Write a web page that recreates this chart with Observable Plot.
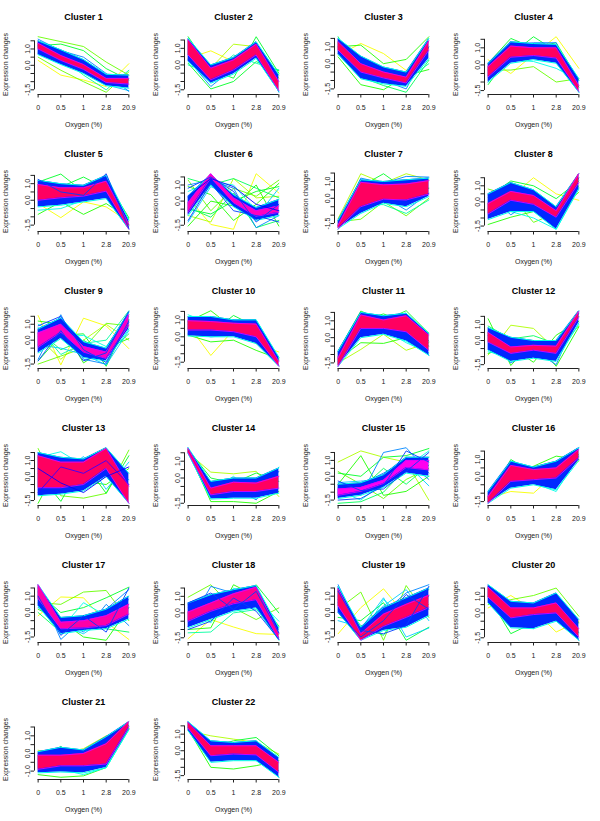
<!DOCTYPE html>
<html><head><meta charset="utf-8">
<script src="https://cdn.jsdelivr.net/npm/d3@7"></script>
<script src="https://cdn.jsdelivr.net/npm/@observablehq/plot@0.6"></script>
<style>
body{margin:0;background:#fff;}
#grid{position:relative;width:600px;height:821px;overflow:hidden;font-family:"Liberation Sans",Arial,Helvetica,sans-serif;}
.panel{position:absolute;width:150px;height:137px;}
</style></head><body><div id="grid"></div>
<script>
const clusterNames = ["Cluster 1","Cluster 2","Cluster 3","Cluster 4","Cluster 5","Cluster 6","Cluster 7","Cluster 8","Cluster 9","Cluster 10","Cluster 11","Cluster 12","Cluster 13","Cluster 14","Cluster 15","Cluster 16","Cluster 17","Cluster 18","Cluster 19","Cluster 20","Cluster 21","Cluster 22"];
const oxygenLabels = ["0","0.5","1","2.8","20.9"];
const timeIndex = [1,2,3,4,5];
const xAxisTitle = "Oxygen (%)";
const yAxisTitle = "Expression changes";
// Mfuzz membership palette (low -> high membership)
const palette = ["#FF8F00","#FFA700","#FFBF00","#FFD700","#FFEF00","#F7FF00","#DFFF00","#C7FF00","#AFFF00","#97FF00","#80FF00","#68FF00","#50FF00","#38FF00","#20FF00","#08FF00","#00FF10","#00FF28","#00FF40","#00FF58","#00FF70","#00FF87","#00FF9F","#00FFB7","#00FFCF","#00FFE7","#00FFFF","#00E7FF","#00CFFF","#00B7FF","#009FFF","#0087FF","#0070FF","#0058FF","#0040FF","#0028FF","#0010FF","#0800FF","#2000FF","#3800FF","#5000FF","#6800FF","#8000FF","#9700FF","#AF00FF","#C700FF","#DF00FF","#F700FF","#FF00EF","#FF00D7","#FF00BF","#FF00A7","#FF008F","#FF0078","#FF0060","#FF0048","#FF0030","#FF0018"];
// labelled y ticks per cluster
const yLabelValues = [[-1.5,0,1],[-1.5,0,1],[-1.5,0,1],[-1.5,0,1],[-1.5,0,1],[-1.5,0,1],[-1.5,0,1],[-1.5,0,1],[-1.5,0,1],[-1.5,0,1],[-1.5,0,1],[-1.5,0,1],[-1.5,0,1],[-1.5,0,1],[-1.5,0,1],[-1.5,0,1],[-1.5,0,1],[-1.5,0,1],[-1.5,0,1],[-1.5,0,1],[-1,0,1],[-1.5,0,1]];
// membership of the densest (core) profiles per cluster
const coreMembership = [0.95,0.95,0.95,0.95,0.95,0.88,0.95,0.95,0.88,0.95,0.95,0.95,0.95,0.95,0.85,0.95,0.9,0.92,0.95,0.95,0.95,0.95];
const bandMembership = 0.62;
const bandEdgeMembership = 0.45;
const coreEdgeMembership = 0.82;
// envelope of high-membership profiles (core) at the 5 oxygen levels
const coreLow = [
[1.0,0.3,-0.25,-1.05,-1.15],[0.6,-0.9,-0.3,0.6,-1.55],[0.8,-0.5,-0.85,-1.15,0.8],[-0.7,0.45,0.55,0.4,-1.55],
[0.0,0.15,0.25,0.55,-1.75],[-0.7,1.45,-0.1,-0.95,-0.7],[-1.8,-0.5,-0.05,-0.1,0.25],[-0.75,0.1,-0.15,-0.95,1.2],
[-0.45,0.5,-0.75,-1.15,0.95],[0.4,0.4,0.3,0.0,-1.74],[-1.7,0.55,0.55,0.35,-0.75],[-0.1,-0.8,-0.6,-0.8,1.45],
[-0.7,-0.7,-0.5,0.5,-1.67],[1.5,-1.0,-0.8,-0.8,-0.6],[-1.2,-0.95,-0.45,0.55,0.4],[-1.6,-0.3,-0.2,-0.1,1.1],
[0.85,-1.0,-0.95,-0.8,-0.1],[-0.5,0.1,0.55,0.8,-1.6],[0.4,-1.7,-0.85,-0.3,0.3],[0.95,-0.3,-0.1,0.0,-1.45],
[-0.9,-0.7,-0.7,-0.6,1.5],[1.35,-0.3,-0.2,-0.25,-1.3]];
const coreHigh = [
[1.35,0.6,0.05,-0.8,-0.8],[1.5,-0.2,0.3,1.25,-1.0],[1.3,0.0,-0.5,-0.8,1.35],[-0.1,1.1,1.0,1.0,-1.2],
[0.95,0.75,0.75,1.15,-1.45],[-0.1,1.7,0.2,-0.6,-0.3],[-1.6,0.95,0.8,0.85,1.05],[-0.1,0.65,0.4,-0.55,1.75],
[0.45,1.0,-0.4,-0.75,1.6],[0.95,0.9,0.8,0.75,-1.46],[-1.2,1.35,1.05,1.3,0.15],[0.5,-0.4,-0.3,-0.35,1.8],
[1.3,0.9,0.9,1.75,-0.6],[1.75,-0.6,-0.25,-0.3,0.1],[-0.8,-0.7,-0.25,1.0,1.0],[-1.2,0.65,0.4,0.5,1.6],
[1.7,-0.6,-0.5,-0.2,0.5],[0.05,0.6,1.15,1.55,-1.25],[1.45,-1.3,-0.1,0.5,1.05],[1.55,0.3,0.3,0.6,-0.95],
[-0.1,-0.1,0.0,0.55,1.8],[1.7,0.3,0.3,0.3,-0.7]];
// envelope of medium-membership profiles
const bandLow = [
[0.65,0.05,-0.5,-1.25,-1.4],[0.2,-1.1,-0.55,0.4,-1.6],[0.55,-0.9,-1.2,-1.35,0.3],[-1.0,0.1,0.3,0.1,-1.6],
[-0.4,-0.3,-0.1,0.1,-1.75],[-0.9,1.0,-0.35,-1.2,-0.9],[-1.8,-0.9,-0.3,-0.5,0.1],[-1.1,-0.6,-0.6,-1.7,0.8],
[-0.8,0.1,-1.1,-1.3,0.7],[0.05,0.0,0.0,-0.4,-1.74],[-1.7,0.0,0.2,-0.2,-1.05],[-0.6,-1.3,-1.1,-1.3,1.1],
[-1.2,-1.1,-0.9,0.0,-1.67],[1.45,-1.25,-1.2,-1.2,-0.9],[-1.4,-1.2,-0.7,0.2,0.0],[-1.6,-0.7,-0.5,-0.8,0.95],
[0.4,-1.3,-1.1,-1.0,-0.4],[-0.9,-0.4,0.1,0.3,-1.65],[0.0,-1.7,-1.1,-0.9,-0.2],[0.6,-0.9,-0.95,-0.5,-1.65],
[-1.1,-1.05,-1.1,-0.8,1.35],[1.2,-0.7,-0.6,-0.6,-1.6]];
const bandHigh = [
[1.5,0.95,0.35,-0.55,-0.6],[1.6,0.0,0.45,1.4,-0.6],[1.5,0.45,-0.2,-0.5,1.5],[0.1,1.35,1.25,1.2,-0.8],
[1.2,1.0,0.9,1.5,-1.2],[0.3,1.65,0.4,-0.4,0.1],[-1.3,1.1,1.0,1.1,1.2],[0.5,1.2,0.75,-0.3,1.75],
[0.7,1.4,-0.1,-0.5,1.75],[1.2,1.2,1.0,1.0,-1.2],[-0.8,1.5,1.3,1.45,0.25],[0.8,0.2,0.0,0.0,1.85],
[1.5,1.2,1.1,1.8,0.2],[1.8,-0.2,0.0,0.0,0.6],[-0.5,-0.4,0.1,1.2,1.2],[-0.9,0.9,0.55,0.9,1.7],
[1.7,-0.3,-0.2,0.2,1.0],[0.6,1.1,1.4,1.65,-0.9],[1.6,-0.9,0.3,0.9,1.5],[1.7,0.7,0.6,1.2,-0.4],
[0.1,0.35,0.2,0.95,1.8],[1.75,0.6,0.5,0.6,-0.4]];
// individual profiles: [cluster, membership, value at 0, 0.5, 1, 2.8, 20.9 % O2]
const strands = [
[1,.1,0.3,-0.6,-0.9,-1.3,0.1],[1,.2,0.5,-0.3,-1.0,-1.65,-0.4],[1,.2,1.75,1.45,1.15,0.2,-0.6],[1,.3,1.2,1.3,0.9,-0.2,-0.9],[1,.4,0.8,0.5,-0.6,-1.5,-0.3],[1,.5,0.7,0.1,-0.4,-1.2,-1.55],[1,.55,1.6,0.9,0.5,-0.5,-1.6],
[2,.1,0.4,0.85,0.2,0.5,-0.6],[2,.15,0.6,-0.2,1.25,1.1,-0.8],[2,.3,0.1,-1.45,-1.0,0.2,-0.35],[2,.3,1.7,-0.3,-0.8,1.7,-0.5],[2,.4,0.0,-0.5,0.6,0.1,-0.3],[2,.55,0.3,-1.3,-0.2,1.2,-1.65],
[3,.1,0.5,1.2,0.6,-0.4,0.9],[3,.25,1.0,1.1,0.0,0.25,1.6],[3,.25,0.4,-1.25,-1.55,-0.7,-0.35],[3,.35,1.6,-0.8,-1.3,-1.7,0.2],[3,.4,0.6,0.3,-0.5,-1.0,0.0],[3,.55,1.4,-0.2,-1.0,-1.5,1.0],
[4,.1,0.3,-0.5,0.6,1.65,-0.2],[4,.2,-0.3,-0.3,-0.1,-1.0,-0.8],[4,.3,0.1,1.55,1.0,1.3,-0.9],[4,.3,-1.15,0.6,1.65,0.8,-1.3],[4,.45,-0.6,0.3,0.2,-0.2,-0.9],[4,.55,-1.0,1.1,1.3,1.3,-1.6],
[5,.1,-0.2,-1.05,-0.1,-0.4,-1.3],[5,.25,-0.85,-0.1,-0.85,-0.2,-1.1],[5,.3,1.1,1.58,0.5,1.2,-1.05],[5,.3,0.5,0.8,1.4,0.7,-1.5],[5,.45,-0.6,-0.5,0.0,0.3,-1.6],[5,.6,1.26,0.5,0.3,1.6,-1.7],
[6,.1,0.2,-1.45,-1.75,1.7,0.5],[6,.15,-0.9,-1.3,1.4,0.2,0.3],[6,.2,1.3,-0.6,0.8,0.3,1.3],[6,.25,-1.55,0.0,-0.3,1.0,-1.55],[6,.25,0.9,0.4,-1.2,-0.2,1.1],[6,.3,-0.5,-0.8,0.0,0.6,0.9],[6,.35,1.4,1.0,1.4,0.8,0.2],[6,.35,-0.4,-1.0,0.5,-1.65,-1.2],[6,.45,0.6,1.2,1.0,-0.6,-0.6],[6,.5,-1.3,0.9,0.3,-1.0,0.8],[6,.55,1.0,1.3,0.8,-1.65,-0.9],[6,.6,0.8,1.5,0.6,-1.3,-0.2],[6,.6,-1.2,1.1,-0.6,-0.9,-1.3],[6,.65,0.3,1.4,0.9,-0.2,-0.6],
[7,.15,-1.2,1.46,0.9,1.46,1.1],[7,.2,-1.4,-1.24,-0.2,-1.04,0.0],[7,.3,-1.3,0.7,1.46,0.5,0.6],[7,.4,-1.5,-0.3,-0.38,-0.9,-0.1],[7,.55,-1.6,1.2,0.9,1.3,1.26],[7,.55,-1.84,0.0,0.1,-0.7,0.3],
[8,.1,0.0,0.3,1.5,0.5,0.1],[8,.2,0.8,0.4,-1.27,-0.7,0.6],[8,.25,-1.4,-0.95,-0.6,-0.4,1.0],[8,.3,0.3,1.3,1.0,0.2,1.3],[8,.45,-0.4,-0.6,-1.0,-1.7,0.9],[8,.55,0.4,-0.8,0.1,-1.2,1.5],
[9,.1,1.55,-1.55,1.38,0.9,-0.53],[9,.15,0.2,-1.2,0.0,1.0,0.0],[9,.2,-1.5,-1.0,-0.5,1.06,0.9],[9,.25,1.2,1.0,-1.43,-0.5,0.1],[9,.3,-1.3,0.3,0.4,-1.64,1.3],[9,.35,0.6,-0.6,0.0,-0.9,0.4],[9,.4,0.8,-0.9,-0.2,0.0,1.85],[9,.45,1.0,0.2,0.3,-0.4,1.5],[9,.5,-0.3,-0.5,-0.9,-1.55,0.6],[9,.55,-1.2,1.6,-1.2,-1.5,1.1],[9,.6,0.9,1.5,-0.6,-1.4,1.2],[9,.6,-1.3,0.6,-1.3,-0.8,1.8],
[10,.1,0.7,-1.1,0.4,-0.4,-0.9],[10,.25,0.1,-0.3,-0.2,-0.8,-1.3],[10,.25,0.9,1.54,0.5,0.2,-1.2],[10,.3,0.5,0.2,1.26,0.6,-1.4],[10,.45,1.3,0.8,0.9,1.0,-1.3],[10,.55,0.2,0.0,0.1,0.0,-1.7],
[11,.15,-1.5,-0.7,0.2,-0.75,-0.3],[11,.25,-1.3,-0.3,-0.34,0.0,-0.5],[11,.3,-0.8,1.58,1.0,1.6,0.26],[11,.3,-1.1,1.0,1.41,0.9,-0.2],[11,.45,-1.4,0.2,0.5,-0.3,-0.9],[11,.55,-1.7,1.2,0.8,1.4,-1.05],
[12,.15,-0.9,0.95,0.75,-0.6,0.9],[12,.25,1.35,-1.55,0.0,-1.6,0.85],[12,.25,-0.8,-0.4,-1.35,0.33,1.2],[12,.35,0.9,0.1,0.3,-0.2,1.5],[12,.45,-0.7,-1.0,-0.8,-1.1,1.0],[12,.55,0.3,-1.4,-0.6,-1.5,1.7],
[13,.2,1.75,-1.2,-1.35,-1.05,1.65],[13,.25,-1.67,1.0,-0.3,-0.5,0.5],[13,.3,0.2,-1.55,0.9,-1.05,1.3],[13,.45,1.2,1.55,0.7,0.3,-0.2],[13,.5,-0.8,0.2,1.25,-0.8,0.9],[13,.65,0.5,-0.4,-1.0,0.0,0.6],[13,.7,-1.0,0.6,0.2,1.0,-0.5],
[14,.15,1.5,0.35,0.25,0.4,-1.1],[14,.25,1.6,-1.4,-1.4,-1.5,-0.8],[14,.3,1.7,0.0,-0.3,0.3,-0.2],[14,.45,1.45,-0.8,0.1,-1.0,0.65],[14,.55,1.8,-1.1,-0.5,-1.3,0.4],
[15,.15,0.9,1.6,1.2,0.9,-1.5],[15,.2,0.3,-0.5,-1.4,-0.2,0.5],[15,.25,-0.5,1.3,-1.2,-0.95,0.0],[15,.3,0.2,0.0,1.2,1.3,1.75],[15,.35,-1.7,-1.6,-1.0,0.5,1.2],[15,.35,-0.7,-0.8,0.5,-0.5,0.7],[15,.45,-0.9,-1.5,-0.4,0.6,1.6],[15,.5,-0.4,-0.3,-0.2,0.8,-0.6],[15,.55,-1.0,-1.2,1.5,1.8,0.2],[15,.55,-1.2,-0.5,0.2,1.0,-0.2],[15,.6,-1.5,-1.4,-0.6,1.6,0.9],[15,.6,-0.3,-0.9,-0.8,0.3,1.5],
[16,.1,-1.3,-0.9,-1.0,0.2,0.9],[16,.25,-1.0,0.2,0.6,1.2,1.0],[16,.3,-1.5,1.0,0.2,0.0,1.3],[16,.45,-1.1,-0.5,-0.4,-0.9,1.2],[16,.55,-1.6,0.8,0.3,0.9,1.7],
[17,.1,-0.2,0.95,0.9,-0.6,-1.65],[17,.2,0.6,0.5,1.25,1.35,-0.5],[17,.25,0.2,-0.5,-1.5,-1.7,0.3],[17,.3,1.2,0.0,0.3,0.9,1.55],[17,.35,0.0,-1.2,-0.2,-1.0,-1.2],[17,.45,1.3,-1.0,0.6,-0.2,0.3],[17,.5,0.5,-0.8,-1.3,-0.4,0.8],[17,.55,1.5,-1.65,-0.4,0.2,1.4],[17,.55,0.3,-0.3,-1.2,0.5,-0.8],[17,.6,1.0,-1.4,-0.2,-1.2,1.5],
[18,.1,-1.55,-0.4,-0.85,-1.25,-1.3],[18,.2,0.95,1.7,0.3,-0.4,0.3],[18,.25,-1.0,-0.9,1.7,1.0,-0.8],[18,.3,0.5,0.8,0.4,1.7,0.0],[18,.4,-1.2,-1.15,0.0,0.2,-1.0],[18,.45,0.3,-0.6,1.5,0.9,-0.5],[18,.55,-0.8,1.6,1.2,0.5,-1.5],[18,.6,0.6,1.2,0.2,1.3,-1.2],[18,.6,-1.0,-0.5,0.9,0.1,-1.6],
[19,.1,-1.3,0.3,1.45,-0.2,0.5],[19,.2,0.2,1.25,-1.7,1.65,-0.3],[19,.3,-0.3,-0.5,0.6,-1.7,-0.9],[19,.35,0.8,-0.8,-1.4,0.8,1.4],[19,.45,0.6,-1.6,0.8,-0.4,1.0],[19,.5,1.0,-1.0,0.9,-1.5,-0.95],[19,.5,-0.5,-0.9,0.4,1.4,-0.5],[19,.55,1.7,-1.2,0.0,1.2,1.7],[19,.6,0.0,-1.5,-0.5,1.1,0.2],[19,.6,1.3,-1.1,-1.3,-0.8,1.6],
[20,.1,0.3,1.05,0.2,-1.15,-0.5],[20,.2,0.5,0.8,1.05,1.5,-0.2],[20,.3,1.0,-1.25,-0.6,-0.4,-0.6],[20,.4,0.7,-0.6,0.5,0.8,-1.2],[20,.55,1.6,0.1,-0.95,1.2,-1.65],
[21,.15,0.18,0.0,0.27,1.0,1.4],[21,.25,-1.2,-1.35,-1.27,-0.8,1.4],[21,.35,-0.3,0.4,-0.4,0.3,1.6],[21,.45,-1.0,-0.9,-1.2,-0.8,1.35],[21,.55,0.0,0.3,-0.2,0.9,1.5],
[22,.15,1.2,0.9,0.7,0.5,-0.2],[22,.25,1.3,-1.0,-1.1,-0.9,-0.6],[22,.3,1.5,0.2,0.6,0.8,-0.3],[22,.45,1.4,-0.5,-0.3,-0.6,-1.2],[22,.55,1.75,0.0,-0.5,0.4,-1.6]
];

const colorOf = m => palette[Math.min(palette.length - 1, Math.floor(m * (palette.length - 1)))];
const grid = document.getElementById("grid");
const font = '"Liberation Sans", Arial, Helvetica, sans-serif';

clusterNames.forEach((name, k) => {
  const mine = strands.filter(s => s[0] === k + 1).sort((a, b) => a[1] - b[1]);
  const toRows = (list, tag) => {
    const rows = [];
    list.forEach((s, i) => s.slice(2).forEach((v, j) => rows.push({id: tag + i, x: timeIndex[j], y: v, c: colorOf(s[1])})));
    return rows;
  };
  const lowRows = toRows(mine.filter(s => s[1] < 0.6), "a");
  const highRows = toRows(mine.filter(s => s[1] >= 0.6), "b");
  const bandRows = timeIndex.map((t, j) => ({x: t, lo: bandLow[k][j], hi: bandHigh[k][j]}));
  const coreRows = timeIndex.map((t, j) => ({x: t, lo: coreLow[k][j], hi: coreHigh[k][j]}));
  const allY = [...lowRows.map(d => d.y), ...highRows.map(d => d.y), ...bandLow[k], ...bandHigh[k], ...coreLow[k], ...coreHigh[k]];
  const [ymin, ymax] = d3.extent(allY);
  const yr = ymax - ymin;
  const usrY = [ymin - 0.04 * yr, ymax + 0.04 * yr];
  const xr = timeIndex[timeIndex.length - 1] - timeIndex[0];
  const usrX = [timeIndex[0] - 0.04 * xr, timeIndex[timeIndex.length - 1] + 0.04 * xr];
  const yTicks = d3.range(Math.ceil(usrY[0] * 2) / 2, usrY[1] + 1e-9, 0.5);
  const shown = yTicks.filter(t => yLabelValues[k].some(v => Math.abs(v - t) < 1e-9));

  const chart = Plot.plot({
    width: 150, height: 137,
    marginLeft: 34, marginRight: 18, marginTop: 34, marginBottom: 43,
    x: {domain: usrX, axis: null},
    y: {domain: usrY, axis: null},
    color: {type: "identity"},
    style: {fontFamily: font, fontSize: "7px", color: "#222", background: "transparent", overflow: "visible"},
    marks: [
      Plot.line(lowRows, {x: "x", y: "y", z: "id", stroke: "c", strokeWidth: 0.9}),
      Plot.areaY(bandRows, {x: "x", y1: "lo", y2: "hi", fill: colorOf(bandMembership)}),
      Plot.line(bandRows, {x: "x", y: "lo", stroke: colorOf(bandEdgeMembership), strokeWidth: 1}),
      Plot.line(bandRows, {x: "x", y: "hi", stroke: colorOf(bandEdgeMembership), strokeWidth: 1}),
      Plot.areaY(coreRows, {x: "x", y1: "lo", y2: "hi", fill: colorOf(coreMembership[k])}),
      Plot.line(coreRows, {x: "x", y: "lo", stroke: colorOf(coreEdgeMembership), strokeWidth: 0.9}),
      Plot.line(coreRows, {x: "x", y: "hi", stroke: colorOf(coreEdgeMembership), strokeWidth: 0.9}),
      Plot.line(highRows, {x: "x", y: "y", z: "id", stroke: "c", strokeWidth: 0.9}),
      Plot.ruleY([usrY[0]], {x1: timeIndex[0], x2: timeIndex[timeIndex.length - 1], stroke: "#222", strokeWidth: 1}),
      Plot.ruleX([usrX[0]], {y1: yTicks[0], y2: yTicks[yTicks.length - 1], stroke: "#222", strokeWidth: 1}),
      Plot.axisX({ticks: timeIndex, tickFormat: d => oxygenLabels[d - 1], tickSize: 3.5, tickPadding: 7, fontSize: 7, label: null}),
      Plot.axisY({ticks: yTicks, tickSize: 3.5, tickFormat: () => "", label: null}),
      Plot.text(shown, {x: usrX[0], y: d => d, text: d => d.toFixed(1), rotate: -90, dx: -6.5, fontSize: 7, fill: "#222", textAnchor: "middle"}),
      Plot.text([name], {text: d => d, frameAnchor: "top", lineAnchor: "middle", textAnchor: "middle", dy: -17.3, fontWeight: "bold", fontSize: 9, fill: "#000"}),
      Plot.text([xAxisTitle], {text: d => d, frameAnchor: "bottom", lineAnchor: "middle", textAnchor: "middle", dy: 30, fontSize: 7, fill: "#222"}),
      Plot.text([yAxisTitle], {text: d => d, frameAnchor: "left", lineAnchor: "middle", textAnchor: "middle", dx: -29, rotate: -90, fontSize: 7, fill: "#222"})
    ]
  });
  const div = document.createElement("div");
  div.className = "panel";
  div.style.left = (k % 4) * 150 + "px";
  div.style.top = Math.floor(k / 4) * 137 + "px";
  div.appendChild(chart);
  grid.appendChild(div);
});
</script>
</body></html>
